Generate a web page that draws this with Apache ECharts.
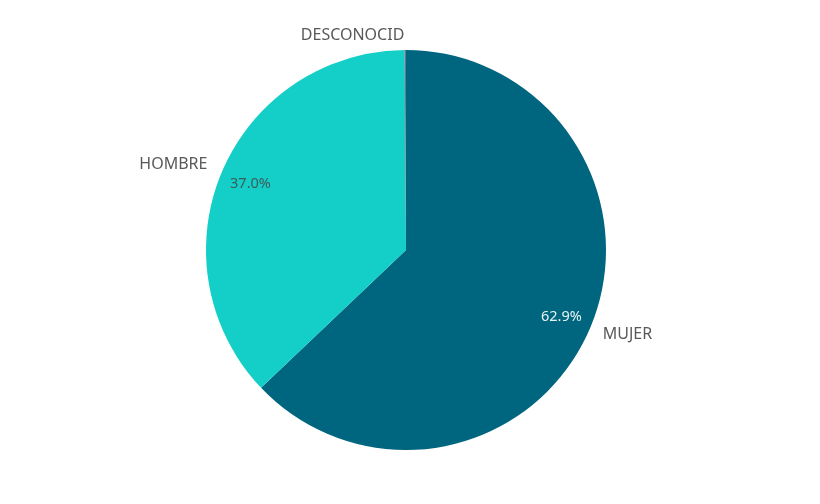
<!DOCTYPE html>
<html><head><meta charset="utf-8">
<script src="https://cdn.jsdelivr.net/npm/echarts@6/dist/echarts.min.js"></script>
<style>html,body{margin:0;padding:0;background:#fff}#c{width:820px;height:504px}</style>
</head><body><div id="c"></div>
<script>
const categories = ['MUJER', 'HOMBRE', 'DESCONOCID'];
const values = [62.9, 37.0, 0.1];
const colors = ['#00657f', '#13cfc7', '#7d6b87'];
const showPct = [true, true, false];
const pctColors = ['#e6f4f4', '#3d5c5c', '#3d5c5c'];

const lineLen = [13, 18, 15];
const labelDist = [1, -2, 1];

const chart = echarts.init(document.getElementById('c'));
const mainData = categories.map((n, i) => ({
  name: n, value: values[i], itemStyle: { color: colors[i] },
  label: { distanceToLabelLine: labelDist[i] },
  labelLine: { show: false, length: lineLen[i], length2: 0 }
}));
const pctData = categories.map((n, i) => ({
  name: n, value: values[i],
  label: { show: showPct[i], color: pctColors[i] }
}));
chart.setOption({
  animation: false,
  series: [{
    type: 'pie', center: [406, 250], radius: [0, 200], startAngle: 90, clockwise: true,
    data: mainData, silent: true,
    label: { show: true, position: 'outside', formatter: '{b}', fontFamily: 'Noto Sans', fontSize: 16, color: '#595959' },
    labelLine: { show: false },
    avoidLabelOverlap: false
  }, {
    type: 'pie', center: [406, 250], radius: [132, 200], startAngle: 90, clockwise: true,
    data: pctData, silent: true,
    itemStyle: { color: 'rgba(0,0,0,0)' },
    label: { position: 'inside', fontFamily: 'Noto Sans', fontSize: 14.5,
      formatter: p => p.value.toFixed(1) + '%' },
    labelLine: { show: false }
  }]
});
</script></body></html>
